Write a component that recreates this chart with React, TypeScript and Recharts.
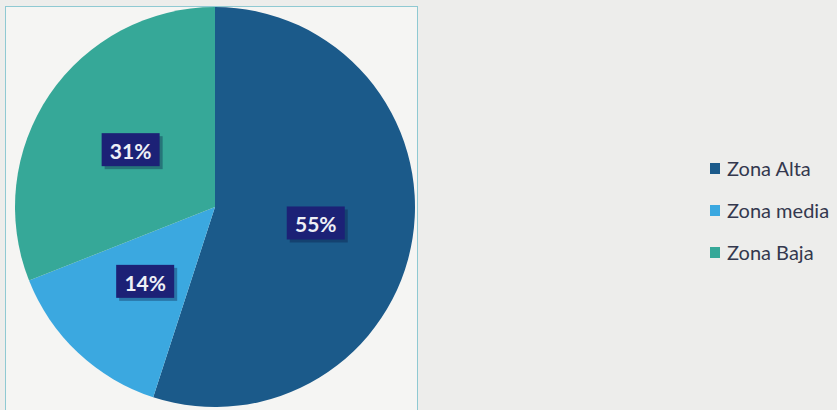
import React from 'react';
import { PieChart, Pie, Cell, Legend } from 'recharts';

const zones = ['Zona Alta', 'Zona media', 'Zona Baja'];
const shares = [55, 14, 31];
const colors = ['#1b5a8a', '#3ba8e0', '#36a898'];

const data = zones.map((name, i) => ({ name, value: shares[i] }));

const RADIAN = Math.PI / 180;

const renderLabel = (props: any) => {
  const { cx, cy, midAngle, outerRadius, value } = props;
  const r = outerRadius * 0.51;
  const x = cx + r * Math.cos(-midAngle * RADIAN);
  const y = cy + r * Math.sin(-midAngle * RADIAN);
  const w = 58;
  const h = 33;
  return (
    <g>
      <rect x={x - w / 2 + 3} y={y - h / 2 + 3} width={w} height={h} fill='#0a1840' opacity={0.35} />
      <rect x={x - w / 2} y={y - h / 2} width={w} height={h} fill='#1c2176' />
      <text
        x={x}
        y={y + 1}
        fill='#eef0f6'
        textAnchor='middle'
        dominantBaseline='central'
        fontFamily='Lato, sans-serif'
        fontWeight='bold'
        fontSize={21}
      >
        {`${value}%`}
      </text>
    </g>
  );
};

const renderLegend = () => (
  <div style={{ fontFamily: 'Lato, sans-serif', fontSize: 20, color: '#34384e' }}>
    {zones.map((z, i) => (
      <div key={z} style={{ display: 'flex', alignItems: 'center', height: 42 }}>
        <span style={{ display: 'inline-block', width: 10, height: 11, background: colors[i], marginRight: 7 }} />
        <span>{z}</span>
      </div>
    ))}
  </div>
);

const App: React.FC = () => {
  return (
    <div style={{ position: 'absolute', left: 0, top: 0, width: 837, height: 410, background: '#ededeb' }}>
      <div
        style={{
          position: 'absolute',
          left: 5,
          top: 6,
          width: 413,
          height: 410,
          border: '1px solid #8fc9d2',
          background: '#f5f5f3',
          boxSizing: 'border-box',
        }}
      />
      <PieChart
        width={837}
        height={410}
        margin={{ top: 0, right: 0, bottom: 0, left: 0 }}
        style={{ position: 'absolute', left: 0, top: 0 }}
      >
        <Pie
          data={data}
          dataKey='value'
          nameKey='name'
          cx={215}
          cy={207}
          outerRadius={200}
          startAngle={90}
          endAngle={-270}
          stroke='none'
          label={renderLabel}
          labelLine={false}
          isAnimationActive={false}
        >
          {data.map((d, i) => (
            <Cell key={d.name} fill={colors[i]} />
          ))}
        </Pie>
        <Legend
          layout='vertical'
          content={renderLegend}
          wrapperStyle={{ left: 710, top: 147, width: 127 }}
        />
      </PieChart>
    </div>
  );
};

export default App;
